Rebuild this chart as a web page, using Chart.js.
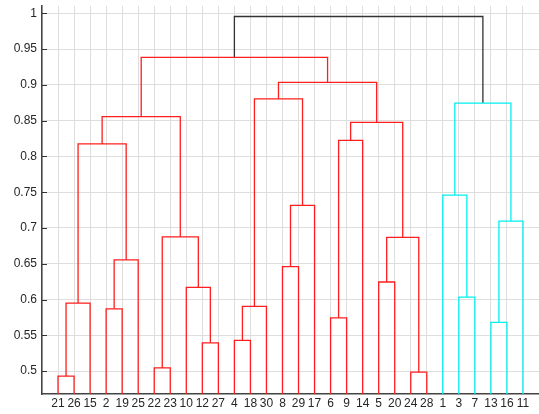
<!DOCTYPE html>
<html>
<head>
<meta charset="utf-8">
<script src="https://cdn.jsdelivr.net/npm/chart.js@4/dist/chart.umd.min.js"></script>
<style>
  html, body { margin: 0; padding: 0; background: #fff; }
  #wrap { width: 539px; height: 414px; }
</style>
</head>
<body>
<div id="wrap"><canvas id="dendro"></canvas></div>
<script>
// leaf order along the x axis
var leafOrder = [21, 26, 15, 2, 19, 25, 22, 23, 10, 12, 27, 4, 18, 30, 8, 29, 17, 6, 9, 14, 5, 20, 24, 28, 1, 3, 7, 13, 16, 11];

// merges: numbers are leaves, "cN" is the cluster made by merge N
var mergeLeft  = [21, 'c0', 2, 'c2', 'c1', 22, 12, 10, 'c5', 'c4', 4, 'c10', 8, 'c12', 'c11', 6, 'c15', 5, 24, 'c17', 'c16', 'c14', 'c9', 3, 1, 13, 'c25', 'c24', 'c22'];
var mergeRight = [26, 15, 19, 25, 'c3', 23, 27, 'c6', 'c7', 'c8', 18, 30, 29, 17, 'c13', 9, 14, 20, 28, 'c18', 'c19', 'c20', 'c21', 7, 'c23', 16, 11, 'c26', 'c27'];
var mergeHeight = [0.493, 0.595, 0.587, 0.6555, 0.8175, 0.5045, 0.5395, 0.617, 0.6875, 0.8555,
                   0.543, 0.5905, 0.646, 0.7315, 0.8805, 0.5745, 0.8225, 0.6245, 0.4985, 0.687,
                   0.8475, 0.9035, 0.9385, 0.6035, 0.746, 0.568, 0.7095, 0.8745, 0.9955];

var yTicks = [0.5, 0.55, 0.6, 0.65, 0.7, 0.75, 0.8, 0.85, 0.9, 0.95, 1];
var yMin = 0.468, yMax = 1.0102;

var nodeX = {}, nodeH = {}, nodeParent = {};
leafOrder.forEach(function (leaf, i) { nodeX[leaf] = i + 1; nodeH[leaf] = yMin - 0.01; });
mergeHeight.forEach(function (h, i) {
    var id = 'c' + i;
    nodeX[id] = (nodeX[mergeLeft[i]] + nodeX[mergeRight[i]]) / 2;
    nodeH[id] = h;
    nodeParent[mergeLeft[i]] = id;
    nodeParent[mergeRight[i]] = id;
});

function underNode(id, top) {
    while (id !== undefined) {
        if (id === top) return true;
        id = nodeParent[id];
    }
    return false;
}
function linkColor(id) {
    if (underNode(id, 'c22')) return 'rgb(255,30,30)';
    if (underNode(id, 'c27')) return 'rgb(0,240,240)';
    return '#333333';
}

var datasets = mergeHeight.map(function (h, i) {
    var a = mergeLeft[i], b = mergeRight[i];
    return {
        data: [
            {x: nodeX[a], y: nodeH[a]},
            {x: nodeX[a], y: h},
            {x: nodeX[b], y: h},
            {x: nodeX[b], y: nodeH[b]}
        ],
        borderColor: linkColor('c' + i),
        borderWidth: 1.3,
        pointRadius: 0,
        tension: 0,
        fill: false
    };
});

var innerTicks = {
    id: 'innerTicks',
    afterDraw: function (chart) {
        var ctx = chart.ctx, ys = chart.scales.y, left = chart.chartArea.left;
        ctx.save();
        ctx.strokeStyle = '#333';
        ctx.lineWidth = 1;
        yTicks.forEach(function (v) {
            var p = Math.round(ys.getPixelForValue(v)) + 0.5;
            ctx.beginPath();
            ctx.moveTo(left, p);
            ctx.lineTo(left + 5, p);
            ctx.stroke();
        });
        ctx.restore();
    }
};

new Chart(document.getElementById('dendro'), {
    type: 'line',
    data: { datasets: datasets },
    options: {
        responsive: true,
        maintainAspectRatio: false,
        animation: false,
        layout: { padding: { top: 6, right: 0, left: 0, bottom: 0 } },
        plugins: { legend: { display: false }, tooltip: { enabled: false } },
        scales: {
            x: {
                type: 'linear',
                min: 0,
                max: 31,
                afterBuildTicks: function (scale) {
                    scale.ticks = leafOrder.map(function (_, i) { return {value: i + 1}; });
                },
                afterFit: function (scale) {
                    scale.height = 20;
                    scale.paddingLeft = 0;
                    scale.paddingRight = 0;
                },
                ticks: {
                    autoSkip: false,
                    maxRotation: 0,
                    padding: 2,
                    color: '#262626',
                    font: { family: 'Liberation Sans', size: 12 },
                    callback: function (v) { return leafOrder[v - 1]; }
                },
                grid: { color: '#dedede', lineWidth: 1, tickLength: 0 },
                border: { color: '#444', width: 1.6 }
            },
            y: {
                min: yMin,
                max: yMax,
                afterBuildTicks: function (scale) {
                    scale.ticks = yTicks.map(function (v) { return {value: v}; });
                },
                afterFit: function (scale) {
                    scale.width = 42;
                    scale.paddingTop = 0;
                    scale.paddingBottom = 0;
                },
                ticks: {
                    padding: 5,
                    color: '#262626',
                    font: { family: 'Liberation Sans', size: 12 },
                    callback: function (v) { return String(Math.round(v * 100) / 100); }
                },
                grid: { color: '#dedede', lineWidth: 1, tickLength: 0 },
                border: { color: '#444', width: 1.6 }
            }
        }
    },
    plugins: [innerTicks]
});
</script>
</body>
</html>
